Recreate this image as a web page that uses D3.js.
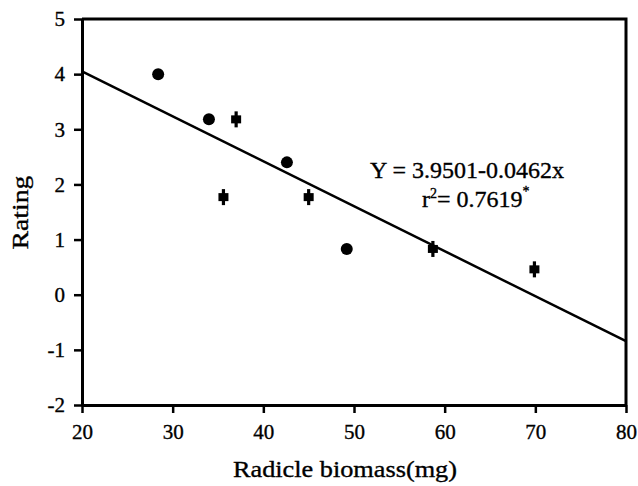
<!DOCTYPE html>
<html>
<head>
<meta charset="utf-8">
<script src="https://cdn.jsdelivr.net/npm/d3@7"></script>
<style>
  body { margin: 0; background: #fff; }
  svg text { font-family: "Liberation Serif", "Times New Roman", serif; fill: #000; stroke: #000; stroke-width: 0.35px; }
</style>
</head>
<body>
<div id="chart"></div>
<script>
// data
const circleX = [28.4, 34.0, 42.6, 49.2]
const circleY = [4.0, 3.18, 2.4, 0.83]
const crossX = [37.0, 35.6, 45.0, 58.7, 69.9]
const crossY = [3.18, 1.77, 1.77, 0.83, 0.46]
const fitX = [20, 80]
const fitY = [4.05, -0.84]
const xTicks = [20, 30, 40, 50, 60, 70, 80]
const yTicks = [-2, -1, 0, 1, 2, 3, 4, 5]

const width = 638
const height = 486
const margin = {top: 19, right: 12, bottom: 81, left: 82}

const svg = d3.select('#chart').append('svg')
    .attr('width', width)
    .attr('height', height)

const x = d3.scaleLinear().domain([20, 80]).range([margin.left, width - margin.right])
const y = d3.scaleLinear().domain([-2, 5]).range([height - margin.bottom, margin.top])

// frame (top + right)
svg.append('path')
    .attr('d', `M${x(20)},${y(5)}H${x(80)}V${y(-2)}`)
    .attr('fill', 'none')
    .attr('stroke', '#000')
    .attr('stroke-width', 3)

// plain hyphen for negatives, like the original
const fmt = d => String(d)
const xAxis = svg.append('g')
    .attr('transform', `translate(0,${y(-2)})`)
    .call(d3.axisBottom(x).tickValues(xTicks).tickFormat(fmt).tickSize(8).tickPadding(11).tickSizeOuter(0))
const yAxis = svg.append('g')
    .attr('transform', `translate(${x(20)},0)`)
    .call(d3.axisLeft(y).tickValues(yTicks).tickFormat(fmt).tickSize(8).tickPadding(9).tickSizeOuter(0))

for (const ax of [xAxis, yAxis]) {
    ax.attr('font-family', null).attr('font-size', null)
    ax.select('.domain').attr('stroke', '#000').attr('stroke-width', 3)
    ax.selectAll('.tick line').attr('stroke', '#000').attr('stroke-width', 2.5)
    ax.selectAll('.tick text').style('font-size', '21px').attr('fill', '#000')
}

// regression line
svg.append('line')
    .attr('x1', x(fitX[0])).attr('y1', y(fitY[0]))
    .attr('x2', x(fitX[1])).attr('y2', y(fitY[1]))
    .attr('stroke', '#000')
    .attr('stroke-width', 2.5)

// circles
svg.selectAll('.dot').data(circleX).join('circle')
    .attr('class', 'dot')
    .attr('cx', d => x(d))
    .attr('cy', (d, i) => y(circleY[i]))
    .attr('r', 6)
    .attr('fill', '#000')

// crosses
const crosses = svg.selectAll('.cross').data(crossX).join('g')
    .attr('class', 'cross')
    .attr('transform', (d, i) => `translate(${x(d)},${y(crossY[i])})`)
crosses.append('rect').attr('x', -5).attr('y', -4).attr('width', 10).attr('height', 8).attr('fill', '#000')
crosses.append('rect').attr('x', -1.6).attr('y', -8).attr('width', 3.2).attr('height', 16).attr('fill', '#000')

// equation
svg.append('text')
    .attr('x', 370).attr('y', 178)
    .style('font-size', '24px')
    .attr('textLength', 194)
    .attr('lengthAdjust', 'spacingAndGlyphs')
    .text('Y = 3.9501-0.0462x')

const r2 = svg.append('text')
    .attr('x', 422).attr('y', 207)
    .style('font-size', '24px')
r2.append('tspan').text('r')
r2.append('tspan').attr('dy', -9).style('font-size', '14px').text('2')
r2.append('tspan').attr('dy', 9).text('= 0.7619')
r2.append('tspan').attr('dy', -11).style('font-size', '14px').text('*')

// axis titles
svg.append('text')
    .attr('x', 345).attr('y', 477)
    .attr('text-anchor', 'middle')
    .style('font-size', '23px')
    .attr('textLength', 224)
    .attr('lengthAdjust', 'spacingAndGlyphs')
    .text('Radicle biomass(mg)')

svg.append('text')
    .attr('transform', 'translate(28,212.5) rotate(-90)')
    .attr('text-anchor', 'middle')
    .style('font-size', '23px')
    .attr('textLength', 74)
    .attr('lengthAdjust', 'spacingAndGlyphs')
    .text('Rating')
</script>
</body>
</html>
